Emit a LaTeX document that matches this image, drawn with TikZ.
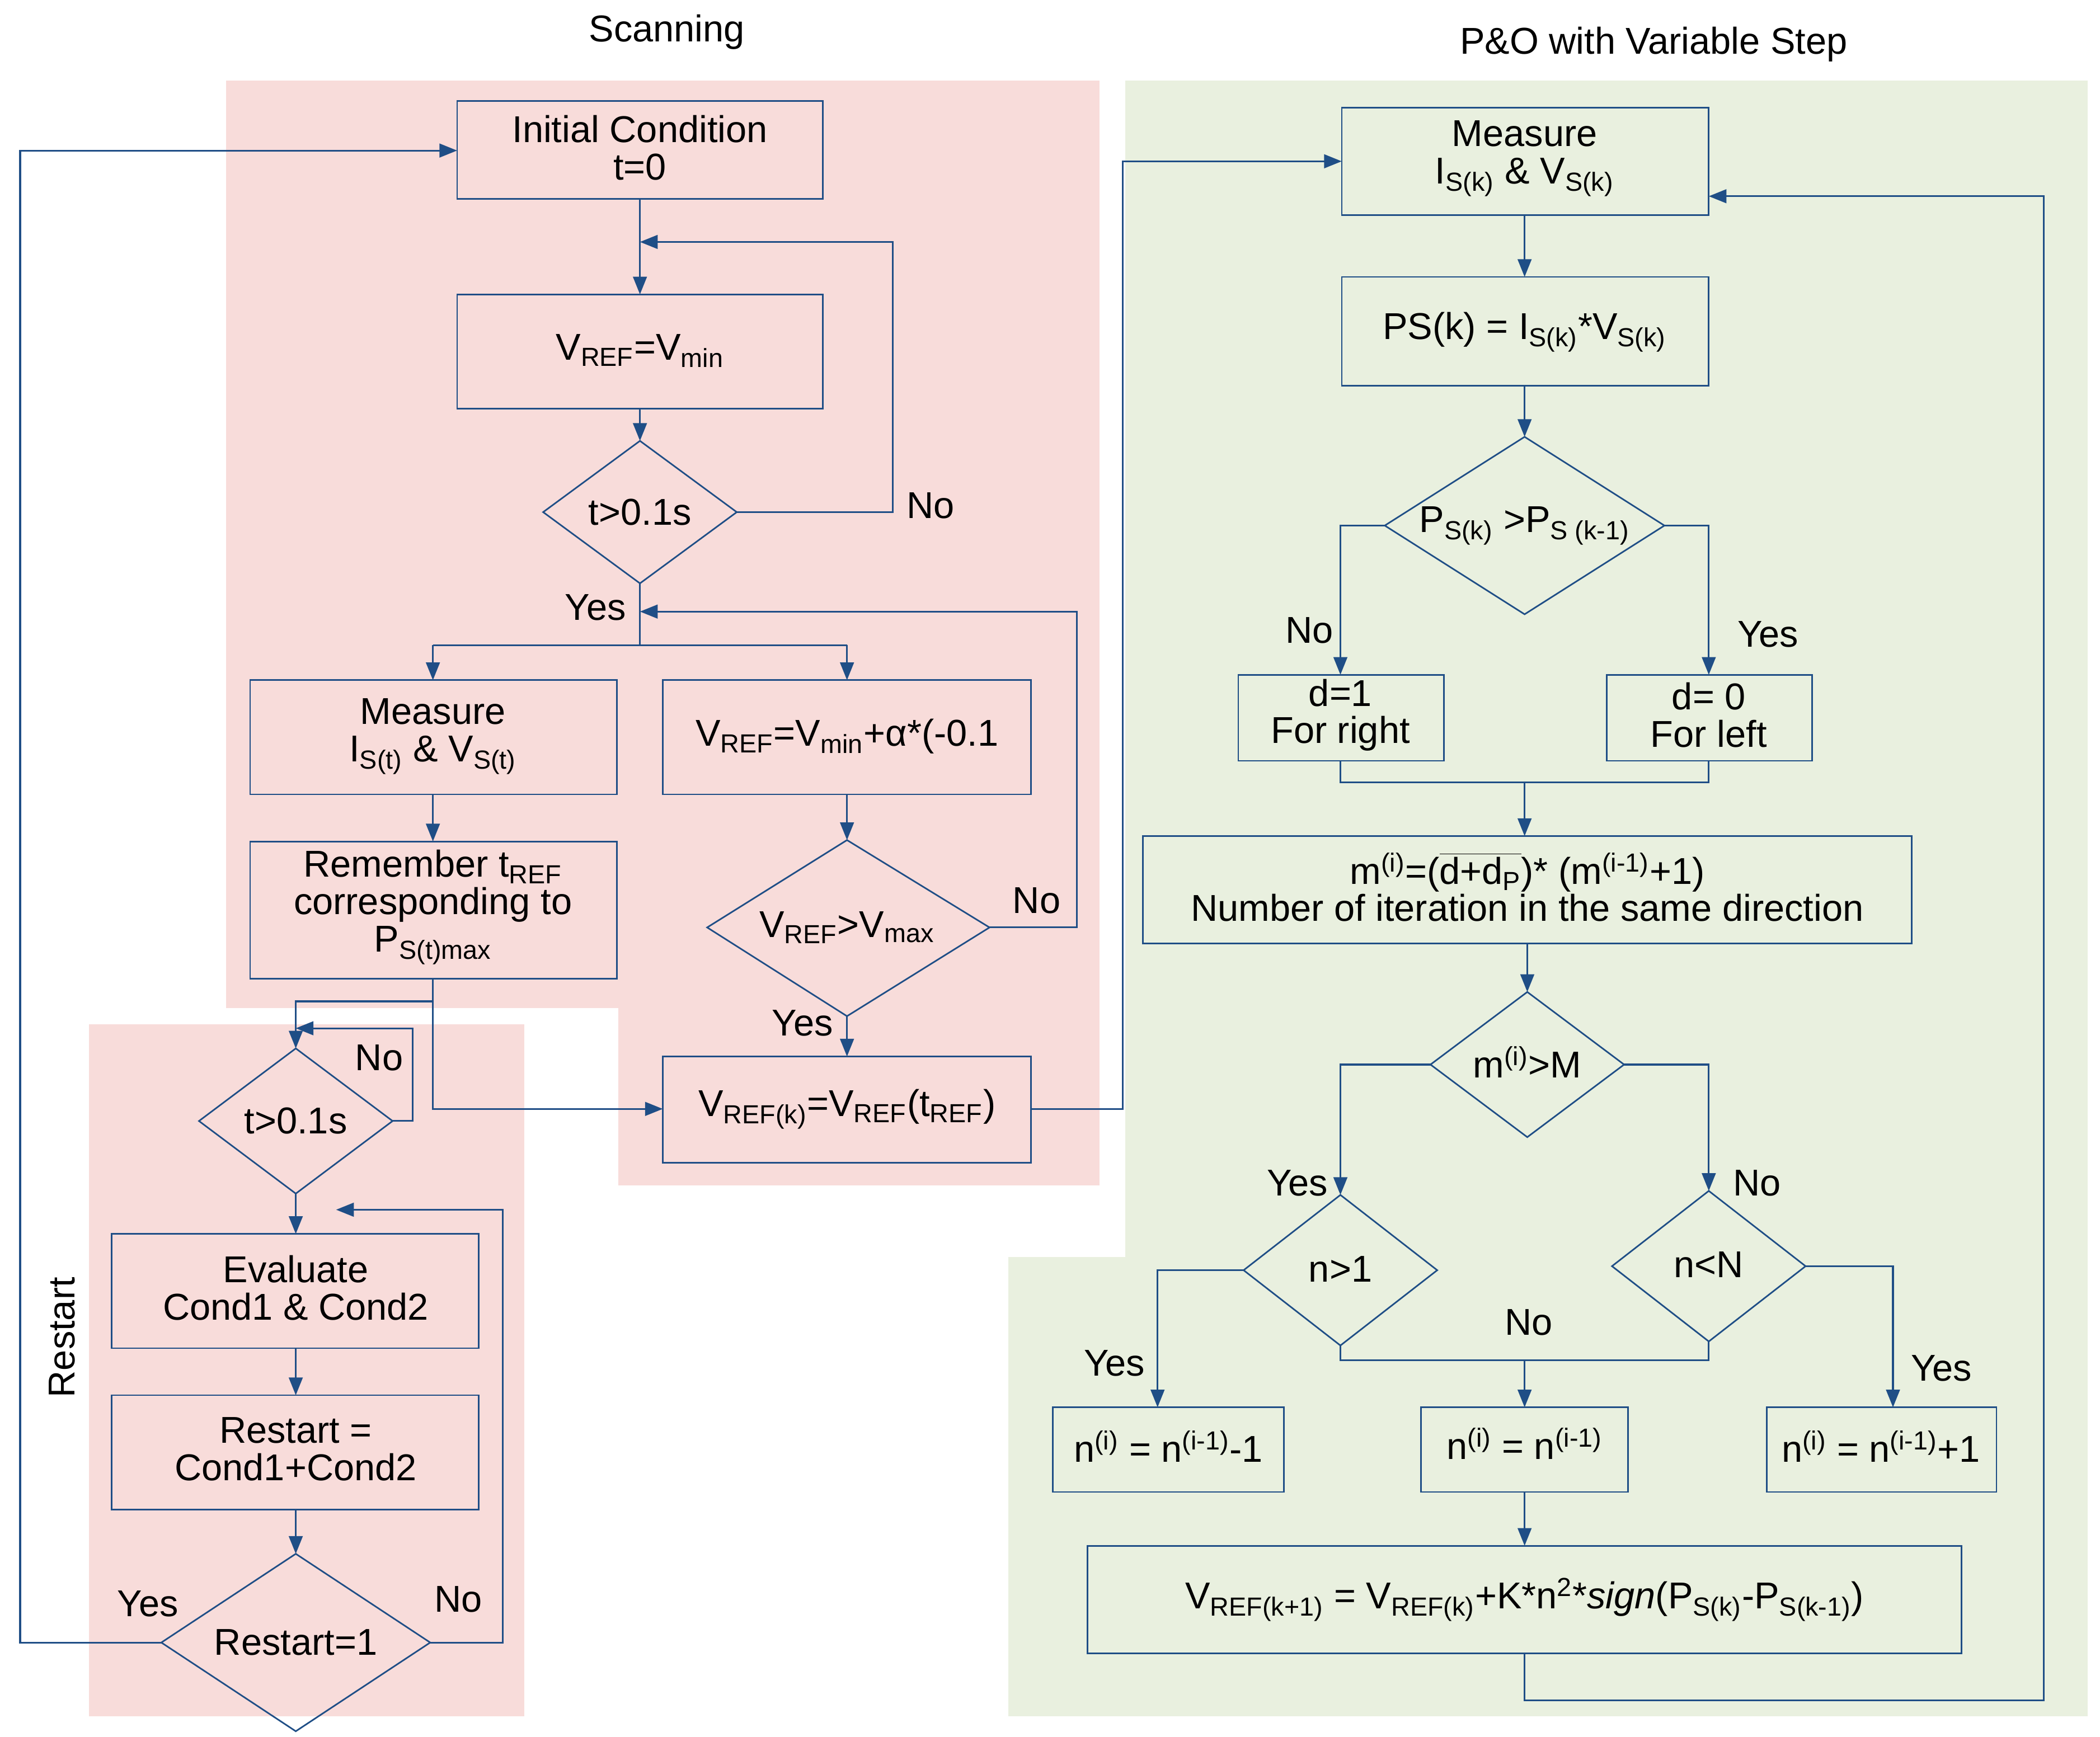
\documentclass[tikz,border=0pt]{standalone}
\usepackage{fontspec}
\setmainfont{Liberation Sans}
\usetikzlibrary{arrows.meta,shapes.geometric}
\definecolor{ln}{HTML}{1F4E86}
\definecolor{pk}{HTML}{F8DCDA}
\definecolor{gr}{HTML}{E9F0DF}
\newcommand{\sbs}[1]{\textsubscript{#1}}
\newcommand{\sps}[1]{\textsuperscript{#1}}
\begin{document}
\begin{tikzpicture}[x=0.02403cm,y=-0.02403cm,
 every node/.style={font=\fontsize{19}{19}\selectfont,align=center,inner sep=0pt},
 bx/.style={draw=ln,line width=0.8pt},
 ar/.style={draw=ln,line width=0.9pt,-{Triangle[length=9pt,width=7pt]}},
 l/.style={draw=ln,line width=0.9pt},
 lab/.style={font=\fontsize{19}{19}\selectfont}]
\useasboundingbox (0,0) rectangle (1562,1292);
\fill[pk] (168,60) rectangle (818,750);
\fill[pk] (460,750) rectangle (818,882);
\fill[pk] (66,762) rectangle (390,1277);
\fill[gr] (837,60) rectangle (1553,935);
\fill[gr] (750,935) rectangle (1553,1277);
\node[lab] at (496,24) {Scanning};
\node[lab] at (1230,33) {P\&O with Variable Step};
\node[lab,rotate=90] at (46,995) {Restart};
% left
\draw[bx] (340,75) rectangle (612,148);
\node (init) at (476,110) {Initial Condition\\t=0};
\draw[bx] (340,219) rectangle (612,304);
\node (vref1) at (476,261) {V\sbs{REF}=V\sbs{min}};
\draw[bx] (476,328)--(548,381)--(476,434)--(404,381)--cycle;
\node (d1) at (476,381) {t>0.1s};
\draw[bx] (186,506) rectangle (459,591);
\node (meas1) at (322,548) {Measure\\I\sbs{S(t)} \& V\sbs{S(t)}};
\draw[bx] (493,506) rectangle (767,591);
\node (vrefa) at (630,548) {V\sbs{REF}=V\sbs{min}+α*(-0.1};
\draw[bx] (186,626) rectangle (459,728);
\node (rem) at (322,675) {Remember t\sbs{REF}\\corresponding to\\P\sbs{S(t)max}};
\draw[bx] (630,625)--(736,690)--(630,756)--(526,690)--cycle;
\node (d2) at (630,690) {V\sbs{REF}>V\sbs{max}};
\draw[bx] (493,786) rectangle (767,865);
\node (vrefk) at (630,825) {V\sbs{REF(k)}=V\sbs{REF}(t\sbs{REF})};
\draw[bx] (220,780)--(292,834)--(220,888)--(148,834)--cycle;
\node (d3) at (220,834) {t>0.1s};
\draw[bx] (83,918) rectangle (356,1003);
\node (eval) at (220,958) {Evaluate\\Cond1 \& Cond2};
\draw[bx] (83,1038) rectangle (356,1123);
\node (rst) at (220,1078) {Restart =\\Cond1+Cond2};
\draw[bx] (220,1156)--(320,1222)--(220,1288)--(120,1222)--cycle;
\node (d4) at (220,1222) {Restart=1};
% left connectors
\draw[ar] (476,148)--(476,219);
\draw[ar] (476,304)--(476,328);
\draw[ar] (548,381)--(664,381)--(664,180)--(476,180);
\node[lab] at (692,376) {No};
\draw[l] (476,434)--(476,480);
\node[lab] at (443,452) {Yes};
\draw[ar] (736,690)--(801,690)--(801,455)--(476,455);
\node[lab] at (771,670) {No};
\draw[ar] (322,480)--(322,506);
\draw[l] (322,480)--(630,480);
\draw[ar] (630,480)--(630,506);
\draw[ar] (322,591)--(322,626);
\draw[ar] (630,591)--(630,625);
\draw[ar] (630,756)--(630,786);
\node[lab] at (597,761) {Yes};
\draw[ar] (322,728)--(322,825)--(493,825);
\draw[ar] (322,745)--(220,745)--(220,780);
\draw[ar] (292,834)--(307,834)--(307,765)--(220,765);
\node[lab] at (282,787) {No};
\draw[ar] (220,888)--(220,918);
\draw[ar] (220,1003)--(220,1038);
\draw[ar] (220,1123)--(220,1156);
\draw[ar] (320,1222)--(374,1222)--(374,900)--(250,900);
\node[lab] at (341,1190) {No};
\draw[ar] (120,1222)--(15,1222)--(15,112)--(340,112);
\node[lab] at (110,1193) {Yes};
\draw[ar] (767,825)--(835,825)--(835,120)--(998,120);
% right
\draw[bx] (998,80) rectangle (1271,160);
\node (meask) at (1134,118) {Measure\\I\sbs{S(k)} \& V\sbs{S(k)}};
\draw[bx] (998,206) rectangle (1271,287);
\node (ps) at (1134,247) {PS(k) = I\sbs{S(k)}*V\sbs{S(k)}};
\draw[bx] (1134,325)--(1238,391)--(1134,457)--(1030,391)--cycle;
\node (d5) at (1134,391) {P\sbs{S(k)} >P\sbs{S (k-1)}};
\draw[bx] (921,502) rectangle (1074,566);
\node (dr) at (997,532) {d=1\\For right};
\draw[bx] (1195,502) rectangle (1348,566);
\node (dl) at (1271,532) {d= 0\\For left};
\draw[bx] (850,622) rectangle (1422,702);
\node (m) at (1136,660) {m\sps{(i)}=($\overline{\mbox{d+d\sbs{P}}}$)* (m\sps{(i-1)}+1)\\Number of iteration in the same direction};
\draw[bx] (1136,738)--(1208,792)--(1136,846)--(1064,792)--cycle;
\node (d6) at (1136,790) {m\sps{(i)}>M};
\draw[bx] (997,889)--(1069,945)--(997,1001)--(925,945)--cycle;
\node (d7) at (997,944) {n>1};
\draw[bx] (1271,886)--(1343,942)--(1271,998)--(1199,942)--cycle;
\node (d8) at (1271,941) {n<N};
\draw[bx] (783,1047) rectangle (955,1110);
\node (n1) at (869,1076) {n\sps{(i)} = n\sps{(i-1)}-1};
\draw[bx] (1057,1047) rectangle (1211,1110);
\node (n2) at (1134,1074) {n\sps{(i)} = n\sps{(i-1)}};
\draw[bx] (1314,1047) rectangle (1485,1110);
\node (n3) at (1399,1076) {n\sps{(i)} = n\sps{(i-1)}+1};
\draw[bx] (809,1150) rectangle (1459,1230);
\node (vk1) at (1134,1190) {V\sbs{REF(k+1)} = V\sbs{REF(k)}+K*n\sps{2}*\textit{sign}(P\sbs{S(k)}-P\sbs{S(k-1)})};
% right connectors
\draw[ar] (1134,160)--(1134,206);
\draw[ar] (1134,287)--(1134,325);
\draw[ar] (1030,391)--(997,391)--(997,502);
\node[lab] at (974,469) {No};
\draw[ar] (1238,391)--(1271,391)--(1271,502);
\node[lab] at (1315,472) {Yes};
\draw[l] (997,566)--(997,582)--(1271,582)--(1271,566);
\draw[ar] (1134,582)--(1134,622);
\draw[ar] (1136,702)--(1136,738);
\draw[ar] (1064,792)--(997,792)--(997,889);
\node[lab] at (965,880) {Yes};
\draw[ar] (1208,792)--(1271,792)--(1271,886);
\node[lab] at (1307,880) {No};
\draw[ar] (925,945)--(861,945)--(861,1047);
\node[lab] at (829,1014) {Yes};
\draw[l] (997,1001)--(997,1012)--(1271,1012)--(1271,998);
\draw[ar] (1134,1012)--(1134,1047);
\node[lab] at (1137,984) {No};
\draw[ar] (1343,942)--(1408,942)--(1408,1047);
\node[lab] at (1444,1018) {Yes};
\draw[ar] (1134,1110)--(1134,1150);
\draw[ar] (1134,1230)--(1134,1265)--(1520,1265)--(1520,146)--(1271,146);
\end{tikzpicture}
\end{document}
